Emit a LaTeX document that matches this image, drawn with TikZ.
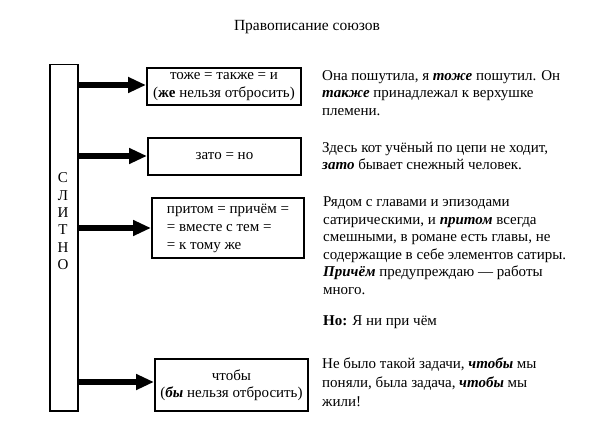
\documentclass[tikz,border=0pt]{standalone}
\usepackage{fontspec}
\setmainfont{Liberation Serif}
\usetikzlibrary{arrows.meta,positioning}
\tikzset{
  rbox/.style={draw,line width=2pt,inner sep=0pt,anchor=north west},
  rarrow/.style={line width=5.5pt,-{Triangle[length=18pt,width=15pt]}},
  rtext/.style={anchor=north west,align=left,inner sep=0pt,font=\fontsize{15}{17.5}\selectfont},
}
\newcommand{\bi}[1]{\textbf{\textit{#1}}}
\begin{document}
\begin{tikzpicture}[x=1pt,y=-1pt,font=\fontsize{15}{17.5}\selectfont]
\useasboundingbox (0,0) rectangle (604,430);
\pgfmathsetmacro{\kbarx}{49}
\pgfmathsetmacro{\kstep}{17.3}
\node[font=\fontsize{15.5}{18}\selectfont] (title) at (307,27) {Правописание союзов};
% vertical bar
\node[draw,line width=1.5pt,minimum width=28pt,minimum height=346pt,anchor=north west,inner sep=0pt] (bar) at (\kbarx,64) {};
\foreach \k/\ch in {0/С,1/Л,2/И,3/Т,4/Н,5/О}{\node[inner sep=0pt] (l\k) at (63,178+\k*\kstep) {\ch};}
% boxes
\node[rbox,minimum width=154pt,minimum height=37pt,align=center,text depth=3pt] (b1) at (146,67) {тоже = также = и\\(\textbf{же} нельзя отбросить)};
\node[rbox,minimum width=153pt,minimum height=37pt] (b2) at (147,137) {зато = но};
\node[rbox,minimum width=152pt,minimum height=60pt,align=left,font=\fontsize{15}{18}\selectfont] (b3) at (151,197) {притом = причём =\\= вместе с тем =\\= к тому же};
\node[rbox,minimum width=153pt,minimum height=52pt,align=center] (b4) at (154,358) {чтобы\\(\bi{бы} нельзя отбросить)};
\foreach \b/\y in {b1/85,b2/156,b3/228,b4/382}{\draw[rarrow] (bar.east |- 0,\y) -- (\b.west |- 0,\y);}
% examples
\node[rtext,font=\fontsize{15}{17.8}\selectfont] (t1) at (322,70) {Она пошутила, я \bi{тоже} пошутил. Он\\\bi{также} принадлежал к верхушке\\племени.};
\node[rtext] (t2) at (322,142) {Здесь кот учёный по цепи не ходит,\\\bi{зато} бывает снежный человек.};
\node[rtext] (t3) at (323,196.5) {Рядом с главами и эпизодами\\сатирическими, и \bi{притом} всегда\\смешными, в романе есть главы, не\\содержащие в себе элементов сатиры.\\\bi{Причём} предупреждаю — работы\\много.};
\node[rtext] (t4) at (323,315) {\textbf{Но:} Я ни при чём};
\node[rtext,font=\fontsize{15}{18.7}\selectfont] (t5) at (322,358) {Не было такой задачи, \bi{чтобы} мы\\поняли, была задача, \bi{чтобы} мы\\жили!};
\end{tikzpicture}
\end{document}
